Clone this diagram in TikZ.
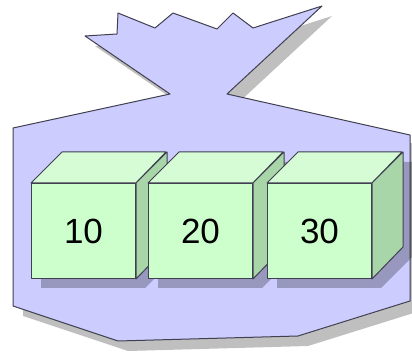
\documentclass[tikz,border=0pt]{standalone}
\usepackage{fontspec}
\setmainfont{Liberation Sans}
\definecolor{linegray}{HTML}{404050}
\definecolor{bagfill}{HTML}{CCCCFF}
\definecolor{frontgreen}{HTML}{CCFFCC}
\definecolor{topgreen}{HTML}{D6FCD6}
\definecolor{sidegreen}{HTML}{A8D6A8}
\begin{document}
\begin{tikzpicture}[x=1pt,y=-1pt,
  outline/.style={draw=linegray,line width=1pt,line join=round},
  bagshape/.style={outline,fill=bagfill},
  dropshadow/.style={fill=black,fill opacity=0.25},
  frontface/.style={outline,fill=frontgreen,minimum width=104pt,minimum height=95pt,
    inner sep=0pt,font=\fontsize{35}{35}\selectfont},
  topface/.style={outline,fill=topgreen},
  sideface/.style={outline,fill=sidegreen}]
\useasboundingbox (0,0) rectangle (412,352);

% outline of the bag
\def\bagpath{(85,36) -- (117,34) -- (118,13) -- (155,28) -- (173,13) -- (217,29)
  -- (233,13) -- (253,28) -- (322,6) -- (227,94) -- (410,135) -- (410,301)
  -- (298,336) -- (118,341) -- (13,306) -- (13,128) -- (170,94) -- cycle}

\fill[dropshadow,shift={(10,10)}] \bagpath;
\draw[bagshape] \bagpath;

% shadows of the three cubes
\foreach \x in {31,148,267}{
  \fill[dropshadow,shift={(10,10)}] (\x,278) -- (\x,183) -- (\x+31,152) -- (\x+135,152)
    -- (\x+135,247) -- (\x+104,278) -- cycle;
}

% the cubes with their values
\foreach \n/\x/\t in {a/31/10, b/148/20, c/267/30}{
  \node[frontface,anchor=north west] (\n) at (\x,183) {\t};
  \draw[topface] (\n.north west) -- ++(31,-31) -- ++(104,0) -- (\n.north east) -- cycle;
  \draw[sideface] (\n.north east) -- ++(31,-31) -- ++(0,95) -- (\n.south east) -- cycle;
}
\end{tikzpicture}
\end{document}
